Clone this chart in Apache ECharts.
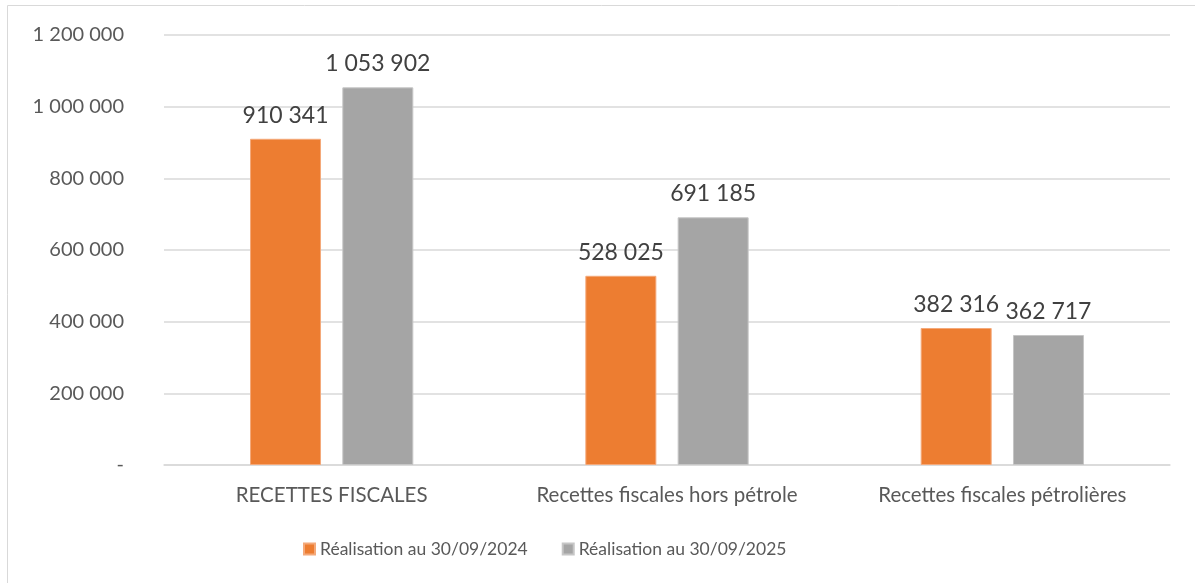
<!DOCTYPE html>
<html><head><meta charset="utf-8">
<script src="https://cdn.jsdelivr.net/npm/echarts@6/dist/echarts.min.js"></script>
<style>html,body{margin:0;padding:0;background:#fff}#c{width:1195px;height:583px}</style>
</head><body><div id="c"></div>
<script>
const categories = ["RECETTES FISCALES", "Recettes fiscales hors pétrole", "Recettes fiscales pétrolières"];
const seriesNames = ["Réalisation au 30/09/2024", "Réalisation au 30/09/2025"];
const values2024 = [910341, 528025, 382316];
const values2025 = [1053902, 691185, 362717];
const yTicks = [0, 200000, 400000, 600000, 800000, 1000000, 1200000];

function fmt(v){ if (v === 0) return "-"; return String(v).replace(/\B(?=(\d{3})+(?!\d))/g, " "); }
const FONT = "Lato";
const chart = echarts.init(document.getElementById('c'));
const lbl = { show:true, position:'top', distance:12, fontFamily:FONT, fontSize:23, color:'#404040', formatter:p=>fmt(p.value) };
chart.setOption({
  animation:false,
  textStyle:{fontFamily:FONT},
  graphic:[{type:'rect', shape:{x:7.5,y:5.5,width:1220,height:620}, style:{fill:'none', stroke:'#D9D9D9', lineWidth:1}, silent:true}],
  grid:{left:164, right:25, top:35, bottom:118},
  legend:{bottom:20, left:298, itemWidth:11, itemHeight:11, itemGap:34, icon:'rect',
    textStyle:{fontFamily:FONT, fontSize:17.5, color:'#595959'}, data:seriesNames},
  xAxis:{type:'category', data:categories, axisTick:{show:false},
    axisLine:{lineStyle:{color:'#D9D9D9', width:1.5}},
    axisLabel:{fontFamily:FONT, fontSize:20.5, color:'#595959', margin:20, interval:0, hideOverlap:false}},
  yAxis:{type:'value', min:yTicks[0], max:yTicks[yTicks.length-1], interval:yTicks[1]-yTicks[0],
    axisLine:{show:false}, axisTick:{show:false},
    splitLine:{lineStyle:{color:'#D9D9D9', width:1.5}},
    axisLabel:{fontFamily:FONT, fontSize:20, color:'#595959', margin:40, formatter:fmt}},
  series:[
    {name:seriesNames[0], type:'bar', data:values2024, barWidth:71, barGap:'30%',
      itemStyle:{color:'#ED7D31', borderColor:'#F4A97A', borderWidth:1}, label:lbl},
    {name:seriesNames[1], type:'bar', data:values2025, barWidth:71,
      itemStyle:{color:'#A5A5A5', borderColor:'#C6C6C6', borderWidth:1}, label:lbl}
  ]
});
</script></body></html>
